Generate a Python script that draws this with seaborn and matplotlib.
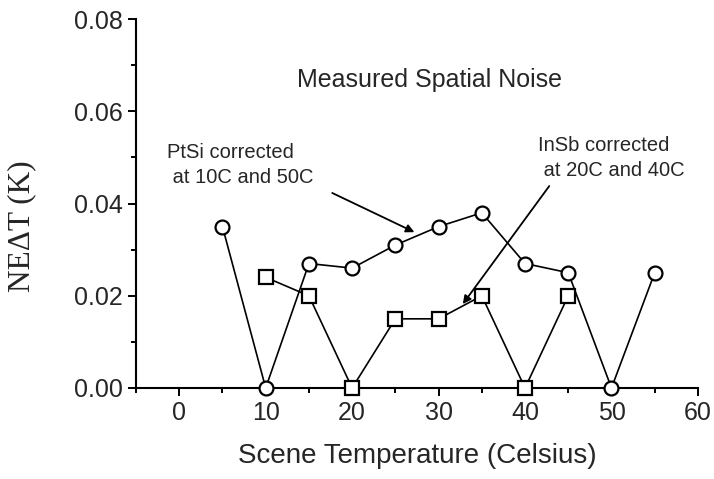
import seaborn as sns
import matplotlib.pyplot as plt
import pandas as pd

# PtSi (circles) and InSb (squares) spatial noise
ptsi_temp = [5, 10, 15, 20, 25, 30, 35, 40, 45, 50, 55]
ptsi_noise = [0.035, 0.0, 0.027, 0.026, 0.031, 0.035, 0.038, 0.027, 0.025, 0.0, 0.025]
insb_temp = [10, 15, 20, 25, 30, 35, 40, 45]
insb_noise = [0.024, 0.020, 0.0, 0.015, 0.015, 0.020, 0.0, 0.020]

x_ticks = [0, 10, 20, 30, 40, 50, 60]
y_ticks = [0.00, 0.02, 0.04, 0.06, 0.08]

ptsi = pd.DataFrame({'temp': ptsi_temp, 'noise': ptsi_noise})
insb = pd.DataFrame({'temp': insb_temp, 'noise': insb_noise})

sns.set_style('ticks')
plt.rcParams['font.family'] = ['Liberation Sans', 'DejaVu Sans']

fig = plt.figure(figsize=(7.14, 4.79), dpi=100)
ax = fig.add_axes([0.1905, 0.19, 0.787, 0.770])

sns.lineplot(data=ptsi, x='temp', y='noise', ax=ax, color='black', lw=1.2,
             marker='o', markersize=10, markerfacecolor='white',
             markeredgecolor='black', markeredgewidth=1.6, clip_on=False, zorder=3)
sns.lineplot(data=insb, x='temp', y='noise', ax=ax, color='black', lw=1.2,
             marker='s', markersize=9.5, markerfacecolor='white',
             markeredgecolor='black', markeredgewidth=1.6, clip_on=False, zorder=3)

ax.set_xlim(-5, 60)
ax.set_ylim(0, 0.08)
ax.set_xticks(x_ticks)
ax.set_yticks(y_ticks)
ax.set_xticks(range(-5, 60, 5), minor=True)
ax.set_yticks([0.01, 0.03, 0.05, 0.07], minor=True)
ax.yaxis.set_major_formatter(plt.FormatStrFormatter('%.2f'))
ax.tick_params(which='major', length=6, width=1.4, labelsize=18, color='black')
ax.tick_params(which='minor', length=3.5, width=1.4, color='black')
for s in ['top', 'right']:
    ax.spines[s].set_visible(False)
for s in ['left', 'bottom']:
    ax.spines[s].set_linewidth(1.5)
    ax.spines[s].set_color('black')

ax.set_xlabel('Scene Temperature (Celsius)', fontsize=20, labelpad=13)
ax.set_ylabel('NE\u0394T (K)', fontsize=22.5, family=['Liberation Serif', 'DejaVu Serif'])
ax.yaxis.set_label_coords(-0.178, 0.439)

ax.text(29.0, 0.0668, 'Measured Spatial Noise', fontsize=18, ha='center', va='center')
ax.text(-1.4, 0.0483, 'PtSi corrected\n at 10C and 50C', fontsize=14.5, ha='left', va='center',
        linespacing=1.4)
ax.text(41.5, 0.0499, 'InSb corrected\n at 20C and 40C', fontsize=14.5, ha='left', va='center',
        linespacing=1.4)

arrow = dict(arrowstyle='-|>', color='black', lw=1.3, mutation_scale=12, shrinkA=0, shrinkB=0)
ax.annotate('', xy=(27.2, 0.0338), xytext=(17.7, 0.0423), arrowprops=arrow)
ax.annotate('', xy=(32.8, 0.0182), xytext=(42.8, 0.0438), arrowprops=arrow)

fig.savefig('out.png', dpi=100)
